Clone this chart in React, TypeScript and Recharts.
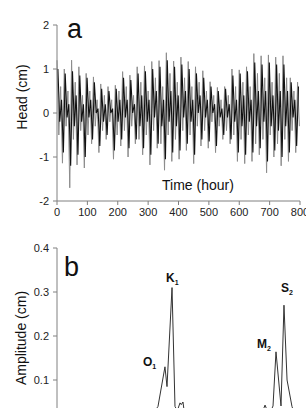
import { LineChart, Line, XAxis, YAxis, ReferenceDot } from "recharts";

// panel a: one value per day at each phase (hours after start of day)
const dayStarts = [
  0, 24, 48, 72, 96, 120, 144, 168, 192, 216, 240, 264, 288, 312, 336, 360, 384,
  408, 432, 456, 480, 504, 528, 552, 576, 600, 624, 648, 672, 696, 720, 744, 768, 792,
];

// gray record (hours +0, +6, +12, +18)
const grayPeak = [
  1.2, 1.0, 1.2, 1.05, 0.9, 0.82, 0.66, 0.6, 0.63, 0.94, 0.86, 1.05, 1.07, 1.17, 1.19, 1.37, 1.18,
  1.27, 1.17, 1.05, 0.96, 0.71, 0.58, 0.6, 1.0, 0.98, 1.05, 1.35, 1.3, 1.32, 1.27, 1.3, 0.8, 0.7,
];
const grayLowA = [
  -0.5, -0.3, -0.6, -0.4, -0.5, -0.3, -0.4, -0.2, -0.5, -0.4, -0.3, -0.6, -0.5, -0.4, -0.7, -0.5, -0.6,
  -0.4, -0.5, -0.3, -0.4, -0.2, -0.3, -0.4, -0.5, -0.6, -0.5, -0.7, -0.6, -0.5, -0.7, -0.6, -0.4, -0.3,
];
const grayHighB = [
  0.6, 0.5, 0.7, 0.4, 0.5, 0.3, 0.4, 0.3, 0.5, 0.6, 0.4, 0.7, 0.5, 0.8, 0.6, 0.9, 0.7,
  0.8, 0.6, 0.7, 0.5, 0.4, 0.3, 0.4, 0.6, 0.7, 0.6, 0.9, 0.8, 0.7, 0.9, 0.8, 0.5, 0.4,
];
const grayTrough = [
  -1.14, -1.7, -1.18, -1.25, -0.7, -0.9, -0.6, -1.05, -0.75, -1.0, -0.7, -0.95, -1.18, -0.8, -1.3, -1.1, -1.05,
  -0.85, -1.15, -0.75, -0.8, -0.9, -0.6, -0.7, -1.1, -1.15, -1.1, -0.95, -1.36, -1.0, -1.2, -1.1, -0.9, -0.8,
];

// black record (hours +3, +9, +15, +21)
const blackPeak = [
  1.0, 0.9, 0.95, 0.85, 0.8, 0.7, 0.55, 0.5, 0.55, 0.8, 0.75, 0.9, 0.95, 1.0, 1.05, 1.2, 1.05,
  1.1, 1.0, 0.9, 0.8, 0.6, 0.5, 0.55, 0.85, 0.9, 0.95, 1.15, 1.1, 1.15, 1.1, 1.1, 0.7, 0.6,
];
const blackLowA = [
  -0.2, -0.1, -0.3, -0.2, -0.1, 0.0, -0.2, 0.0, -0.2, -0.1, 0.0, -0.3, -0.2, -0.1, -0.3, -0.2, -0.3,
  -0.1, -0.2, 0.0, -0.1, 0.0, -0.1, -0.1, -0.2, -0.3, -0.2, -0.3, -0.2, -0.3, -0.4, -0.3, -0.1, 0.0,
];
const blackHighB = [
  0.3, 0.2, 0.4, 0.2, 0.3, 0.1, 0.2, 0.1, 0.3, 0.3, 0.2, 0.4, 0.3, 0.5, 0.3, 0.5, 0.4,
  0.5, 0.3, 0.4, 0.3, 0.2, 0.1, 0.2, 0.3, 0.4, 0.3, 0.5, 0.5, 0.4, 0.5, 0.5, 0.3, 0.2,
];
const blackTrough = [
  -0.9, -1.2, -0.95, -1.0, -0.6, -0.75, -0.5, -0.85, -0.6, -0.8, -0.6, -0.8, -0.95, -0.7, -1.05, -0.9, -0.85,
  -0.7, -0.95, -0.6, -0.65, -0.75, -0.5, -0.6, -0.9, -0.95, -0.9, -0.8, -1.1, -0.85, -1.0, -0.9, -0.75, -0.65,
];

const timeTicks = [0, 100, 200, 300, 400, 500, 600, 700, 800];
const headTicks = [-2, -1, 0, 1, 2];

// panel b: amplitude spectrum (cycles per day)
const freq = [
  0, 0.2, 0.4, 0.6, 0.75, 0.82, 0.86, 0.886, 0.947, 0.965, 1.009, 1.035, 1.055, 1.079, 1.09, 1.105, 1.12,
  1.3, 1.5, 1.7, 1.79, 1.825, 1.86, 1.895, 1.921, 1.965, 1.991, 2.018, 2.061, 2.1, 2.3, 2.5,
];
const amp = [
  0.01, 0.01, 0.01, 0.01, 0.01, 0.015, 0.03, 0.04, 0.13, 0.085, 0.31, 0.04, 0.03, 0.048, 0.044, 0.05, 0.02,
  0.01, 0.01, 0.01, 0.02, 0.043, 0.02, 0.041, 0.164, 0.041, 0.27, 0.1, 0.04, 0.01, 0.005, 0.005,
];
// the 0.0 tick sits below the visible window
const ampTicks = [0.1, 0.2, 0.3, 0.4];

const peakName = ["O", "K", "M", "S"];
const peakSub = ["1", "1", "2", "2"];
const peakFreq = [0.947, 1.009, 1.921, 1.991];
const peakAmp = [0.13, 0.31, 0.164, 0.27];
const peakOffset = [
  [-22, -1],
  [-6, -6],
  [-19, -4],
  [-3, -13],
];

const grayData = dayStarts
  .flatMap((d, i) => [
    { t: d, v: grayPeak[i] },
    { t: d + 6, v: grayLowA[i] },
    { t: d + 12, v: grayHighB[i] },
    { t: d + 18, v: grayTrough[i] },
  ])
  .filter((p) => p.t <= 800);

const blackData = dayStarts
  .flatMap((d, i) => [
    { t: d + 3, v: blackPeak[i] },
    { t: d + 9, v: blackLowA[i] },
    { t: d + 15, v: blackHighB[i] },
    { t: d + 21, v: blackTrough[i] },
  ])
  .filter((p) => p.t <= 800);

const spectrum = freq.map((f, i) => ({ f, a: amp[i] }));

const FONT = "'Liberation Sans', Arial, sans-serif";
const axisColor = "#808080";
const tickStyle = { fill: "#222", fontSize: 11, fontFamily: FONT };

const PeakLabel = ({ viewBox, name, sub, dx, dy }: any) => {
  const x = viewBox.x + (viewBox.width || 0) / 2 + dx;
  const y = viewBox.y + dy;
  return (
    <text x={x} y={y} fontFamily={FONT} fontWeight="bold" fontSize={12} fill="#111">
      {name}
      <tspan fontSize={7} dy={3}>
        {sub}
      </tspan>
    </text>
  );
};

const textStyle: any = {
  position: "absolute",
  fontFamily: FONT,
  color: "#111",
  whiteSpace: "nowrap",
  lineHeight: 1,
};

export default function App() {
  return (
    <div
      style={{
        position: "absolute",
        left: 0,
        top: 0,
        width: 306,
        height: 408,
        overflow: "hidden",
        background: "#fff",
      }}
    >
      <div style={{ position: "absolute", left: 0, top: 0 }}>
        <LineChart
          width={330}
          height={232}
          margin={{ top: 25, right: 30, bottom: 0, left: 0 }}
        >
          <XAxis
            dataKey="t"
            type="number"
            domain={[0, 800]}
            ticks={timeTicks}
            interval={0}
            stroke={axisColor}
            tickSize={4}
            tickMargin={3}
            tick={tickStyle}
            height={31}
          />
          <YAxis
            dataKey="v"
            type="number"
            domain={[-2, 2]}
            ticks={headTicks}
            interval={0}
            stroke={axisColor}
            tickSize={4}
            tickMargin={4}
            tick={tickStyle}
            width={57}
          />
          <Line
            data={grayData}
            dataKey="v"
            stroke="#8c8c8c"
            strokeWidth={1}
            dot={false}
            isAnimationActive={false}
          />
          <Line
            data={blackData}
            dataKey="v"
            stroke="#111"
            strokeWidth={1.1}
            dot={false}
            isAnimationActive={false}
          />
        </LineChart>
      </div>

      <div style={{ position: "absolute", left: 0, top: 220 }}>
        <LineChart
          data={spectrum}
          width={360}
          height={234}
          margin={{ top: 28, right: 18, bottom: 0, left: 0 }}
        >
          <XAxis
            dataKey="f"
            type="number"
            domain={[0, 2.5]}
            stroke={axisColor}
            tick={false}
            tickLine={false}
            height={30}
          />
          <YAxis
            type="number"
            domain={[0, 0.4]}
            ticks={ampTicks}
            interval={0}
            stroke={axisColor}
            tickSize={4}
            tickMargin={4}
            tick={tickStyle}
            tickFormatter={(v: number) => v.toFixed(1)}
            width={57}
          />
          <Line
            dataKey="a"
            stroke="#333"
            strokeWidth={1}
            dot={false}
            isAnimationActive={false}
          />
          {peakName.map((n, i) => (
            <ReferenceDot
              key={n + i}
              x={peakFreq[i]}
              y={peakAmp[i]}
              r={0}
              fill="none"
              stroke="none"
              label={
                <PeakLabel
                  name={n}
                  sub={peakSub[i]}
                  dx={peakOffset[i][0]}
                  dy={peakOffset[i][1]}
                />
              }
            />
          ))}
        </LineChart>
      </div>

      <div style={{ ...textStyle, left: 67, top: 16, fontSize: 27 }}>a</div>
      <div style={{ ...textStyle, left: 64, top: 254, fontSize: 27 }}>b</div>
      <div style={{ ...textStyle, left: 162, top: 178, fontSize: 14 }}>
        Time (hour)
      </div>
      <div
        style={{
          ...textStyle,
          left: 22,
          top: 97,
          fontSize: 14,
          transform: "translate(-50%, -50%) rotate(-90deg)",
        }}
      >
        Head (cm)
      </div>
      <div
        style={{
          ...textStyle,
          left: 21,
          top: 338,
          fontSize: 14,
          transform: "translate(-50%, -50%) rotate(-90deg)",
        }}
      >
        Amplitude (cm)
      </div>
    </div>
  );
}
